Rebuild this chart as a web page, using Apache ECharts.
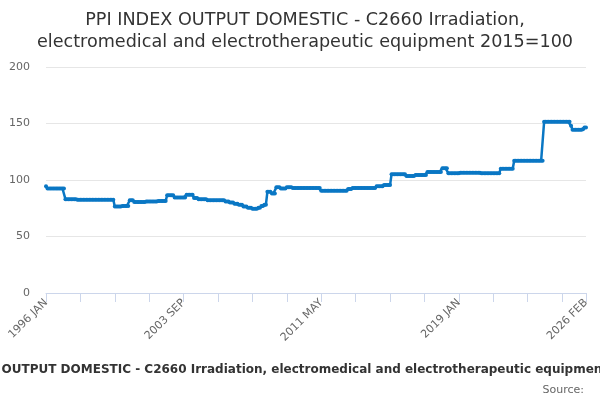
<!DOCTYPE html>
<html>
<head>
    <meta charset="utf-8">
    <title>PPI C2660</title>
    <script src="https://cdn.jsdelivr.net/npm/echarts@6/dist/echarts.min.js"></script>
    <style>
        html, body { margin: 0; padding: 0; background: #fff; }
        #main { width: 600px; height: 400px; }
    </style>
</head>
<body>
<div id="main"></div>
<script type="text/javascript">
// index levels, each held for the given number of months (from 1996 JAN)
var levelValues = [94.5, 92.5, 83, 82.5, 76.5, 77, 82, 80.5, 81, 81.5,
                   86.5, 84.5, 87, 84, 83, 82, 81, 80, 79, 78,
                   76.5, 75.5, 74.5, 75.5, 77, 78, 89.5, 88, 93.5, 92.5,
                   93.5, 93, 90.5, 92, 93, 94.5, 95.5, 105, 103.5, 104.5,
                   107, 110.5, 106, 106.5, 106, 110, 117, 151.5, 148, 144.5,
                   145, 146.5];
var levelMonths = [1, 12, 8, 25, 5, 5, 3, 8, 8, 6,
                   5, 8, 5, 3, 6, 12, 3, 3, 3, 3,
                   3, 3, 4, 2, 2, 2, 3, 3, 3, 4,
                   4, 19, 18, 3, 16, 5, 5, 10, 6, 8,
                   10, 4, 8, 14, 13, 9, 20, 18, 1, 7,
                   1, 2];
var monthNames = ['JAN', 'FEB', 'MAR', 'APR', 'MAY', 'JUN', 'JUL', 'AUG', 'SEP', 'OCT', 'NOV', 'DEC'];
var yTicks = [0, 50, 100, 150, 200];
var seriesName = 'PPI INDEX OUTPUT DOMESTIC - C2660 Irradiation, electromedical and electrotherapeutic equipment 2015=100';

var values = [];
for (var k = 0; k < levelValues.length; k++) {
    for (var m = 0; m < levelMonths[k]; m++) values.push(levelValues[k]);
}
var months = [];
for (var i = 0; i < values.length; i++) {
    months.push((1996 + Math.floor(i / 12)) + ' ' + monthNames[i % 12]);
}
var last = months.length - 1;

var myChart = echarts.init(document.getElementById('main'));
var option = {
    backgroundColor: '#ffffff',
    animation: false,
    textStyle: { fontFamily: 'DejaVu Sans' },
    title: [{
        text: 'PPI INDEX OUTPUT DOMESTIC - C2660 Irradiation,\nelectromedical and electrotherapeutic equipment 2015=100',
        left: 300,
        top: 4,
        textAlign: 'center',
        textStyle: { fontSize: 17.6, fontWeight: 'normal', color: '#333333', lineHeight: 22, fontFamily: 'DejaVu Sans' }
    }, {
        text: seriesName,
        left: 300,
        top: 359,
        textAlign: 'center',
        textStyle: { fontSize: 12, fontWeight: 'bold', color: '#333333', fontFamily: 'DejaVu Sans' }
    }, {
        text: 'Source:',
        right: 11,
        top: 380,
        textStyle: { fontSize: 11, fontWeight: 'normal', color: '#666666', fontFamily: 'DejaVu Sans' }
    }],
    grid: { left: 46, right: 14, top: 67, bottom: 107, containLabel: false },
    xAxis: {
        type: 'category',
        boundaryGap: false,
        data: months,
        axisLine: { lineStyle: { color: '#ccd6eb', width: 1 } },
        axisTick: {
            length: 9,
            interval: function (index) { return index % 23 === 0 || index === last; },
            lineStyle: { color: '#ccd6eb' }
        },
        axisLabel: {
            rotate: 45,
            interval: function (index) { return index % 92 === 0 || index === last; },
            color: '#666666',
            fontSize: 11,
            margin: 8,
            hideOverlap: false
        },
        splitLine: { show: false }
    },
    yAxis: {
        type: 'value',
        min: yTicks[0],
        max: yTicks[yTicks.length - 1],
        interval: 50,
        axisLine: { show: false },
        axisTick: { show: false },
        axisLabel: { color: '#666666', fontSize: 11, margin: 16 },
        splitLine: { lineStyle: { color: '#e6e6e6', width: 1 } }
    },
    series: [{
        name: seriesName,
        type: 'line',
        data: values,
        symbol: 'circle',
        symbolSize: 4,
        showSymbol: true,
        showAllSymbol: true,
        itemStyle: { color: '#0a77c4' },
        lineStyle: { color: '#0a77c4', width: 2.5 }
    }]
};
myChart.setOption(option);
</script>
</body>
</html>
